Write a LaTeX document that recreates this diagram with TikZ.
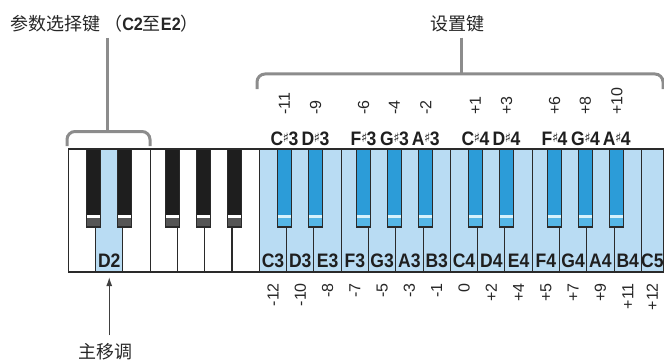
\documentclass[tikz,border=0pt]{standalone}
\usepackage{fontspec}
\setmainfont{Liberation Sans}
\newfontfamily\cjk{Noto Sans CJK SC}
\newfontfamily\symf{DejaVu Sans Bold}
\newfontfamily\keyf[FakeStretch=0.9]{Liberation Sans Bold}
\usetikzlibrary{arrows.meta}
\definecolor{keyblue}{HTML}{B9DCF3}
\definecolor{bkblue}{HTML}{2C9CD8}
\definecolor{bkbluelo}{HTML}{55B6E6}
\definecolor{bkbluehl}{HTML}{D6F1FB}
\definecolor{bkdark}{HTML}{1E1E1E}
\definecolor{bkdarklo}{HTML}{555555}
\definecolor{brgray}{HTML}{8C8C8C}
\definecolor{edge}{HTML}{2A2A2A}
\newcommand{\shp}{\kern-0.4pt{\symf\fontsize{13}{13}\selectfont\raisebox{2.4pt}{♯}}\kern-0.6pt}
\tikzset{
  wkey/.style={draw=edge, line width=1.1pt, rectangle, inner sep=0pt, outer sep=0pt, minimum height=123pt, anchor=north west},
  bkey/.style={draw=edge, line width=1.2pt, rectangle, inner sep=0pt, outer sep=0pt, minimum width=14pt, minimum height=78pt, anchor=north},
  klabel/.style={font=\keyf\fontsize{19.5}{19.5}\selectfont, inner sep=0pt, text=black!88},
  numlabel/.style={font=\fontsize{16}{16}\selectfont, inner sep=0pt, rotate=90, text=black!85},
  bracket/.style={draw=brgray, line width=3pt},
  cjklabel/.style={font=\cjk\fontsize{18}{18}\selectfont, inner sep=0pt, text=black!85},
}
\begin{document}
\begin{tikzpicture}[x=1pt,y=-1pt]
\useasboundingbox (0,0) rectangle (664,361);
% white keys
\foreach \i in {0,...,20}{
  \ifnum\i=1 \def\kc{keyblue}\else\ifnum\i>6 \def\kc{keyblue}\else\def\kc{white}\fi\fi
  \node[wkey, fill=\kc, minimum width=27.29pt] (w\i) at ({68.3+\i*27.29},149) {};
}
\node[wkey, fill=keyblue, minimum width=22pt] (w21) at ({68.3+21*27.29},149) {};
% white key labels
\node[klabel, anchor=base] (lD2) at ([yshift=4.5pt]w1.south) {D2};
\foreach \i/\nm in {7/C3,8/D3,9/E3,10/F3,11/G3,12/A3,13/B3,14/C4,15/D4,16/E4,17/F4,18/G4,19/A4,20/B4,21/C5}{
  \node[klabel, anchor=base] (l\i) at ([yshift=4.5pt]w\i.south) {\nm};
}
% black keys
\foreach \o in {0,1,2}{
  \foreach \f [count=\j] in {0.92,2.06,3.82,4.95,6.10}{
    \pgfmathsetmacro\xc{68.3+(7*\o+\f)*27.29}
    \ifnum\o=0
      \def\bc{bkdark}\def\bl{bkdarklo}\def\bh{white}
    \else
      \def\bc{bkblue}\def\bl{bkbluelo}\def\bh{bkbluehl}
    \fi
    \node[bkey, fill=\bc] (b\o\j) at (\xc,149) {};
    \fill[\bl] ([xshift=0.6pt,yshift=0.6pt]b\o\j.south west) rectangle ([xshift=-0.6pt,yshift=9pt]b\o\j.south east);
    \fill[\bh] ([xshift=0.6pt,yshift=9pt]b\o\j.south west) rectangle ([xshift=-0.6pt,yshift=12pt]b\o\j.south east);
    \draw[edge, line width=1.2pt] (b\o\j.north west) rectangle (b\o\j.south east);
  }
}
% sharp-key labels and upper numbers
\foreach \o/\oc in {1/3,2/4}{
  \foreach \j/\nm in {1/C,2/D,3/F,4/G,5/A}{
    \node[klabel, anchor=base] (s\o\j) at (b\o\j.north |- 0,145) {\nm\shp\oc};
  }
}
\foreach \k/\v in {11/-11,12/-9,13/-6,14/-4,15/-2,21/+1,22/+3,23/+6,24/+8,25/+10}{
  \node[numlabel, anchor=west] (u\k) at (b\k.north |- 0,115) {\v};
}
% lower numbers
\foreach \i/\v in {7/-12,8/-10,9/-8,10/-7,11/-5,12/-3,13/-1,14/0,15/+2,16/+4,17/+5,18/+7,19/+9,20/+11,21/+12}{
  \node[numlabel, anchor=east] (d\i) at (w\i.south |- 0,283) {\v};
}
% top labels
\node[cjklabel] (tl) at (104.5,24) {参数选择键 （{\keyf C2}至{\keyf E2}）};
\node[cjklabel] (tr) at (457,24) {设置键};
% brackets
\coordinate (brl) at (107,131.5);
\coordinate (brr) at (461,74);
\draw[bracket, rounded corners=8pt] (67,146) -- (67,131.5) -- (150,131.5) -- (150,146);
\draw[bracket] (brl |- tl.south) ++(0,5) -- (brl);
\draw[bracket, rounded corners=8pt] (257,89) -- (257,74) -- (663,74) -- (663,89);
\draw[bracket] (brr |- tr.south) ++(0,5) -- (brr);
% bottom label and arrow
\node[cjklabel] (bl) at (105,352) {主移调};
\draw[draw=black!75, line width=1.3pt, -{Latex[length=9pt,width=6pt]}, shorten <=8pt, shorten >=5pt] (bl.north -| w1.south) -- (w1.south);
\end{tikzpicture}
\end{document}
